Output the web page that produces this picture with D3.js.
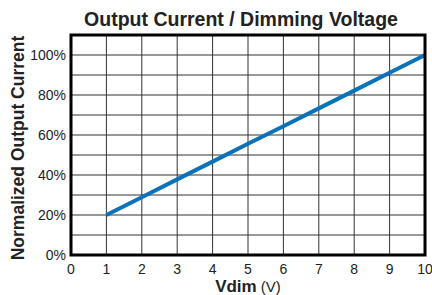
<!DOCTYPE html>
<html>
<head>
<meta charset="utf-8">
<script src="https://cdn.jsdelivr.net/npm/d3@7"></script>
<style>
  body { margin: 0; background: #fff; }
  svg text { font-family: "Liberation Sans", Arial, sans-serif; fill: #222; }
</style>
</head>
<body>
<div id="chart"></div>
<script>
// values
var vdim = [1, 2, 3, 4, 5, 6, 7, 8, 9, 10];
var current = [20, 28.9, 37.8, 46.7, 55.6, 64.4, 73.3, 82.2, 91.1, 100];
var xTicks = [0, 1, 2, 3, 4, 5, 6, 7, 8, 9, 10];
var yTicks = [0, 20, 40, 60, 80, 100];

var width = 432, height = 295,
    margin = {top: 35, right: 7, bottom: 40, left: 71};

var svg = d3.select('#chart').append('svg')
    .attr('width', width)
    .attr('height', height);

var x = d3.scaleLinear().domain([0, 10]).range([margin.left, width - margin.right]);
var y = d3.scaleLinear().domain([0, 110]).range([height - margin.bottom, margin.top]);

// grid
var g = svg.append('g');
g.selectAll('.vg').data(d3.range(1, 10)).enter().append('line')
    .attr('x1', d => x(d)).attr('x2', d => x(d))
    .attr('y1', y(0)).attr('y2', y(110))
    .attr('stroke', '#333').attr('stroke-width', 1);
g.selectAll('.hg').data(d3.range(10, 110, 10)).enter().append('line')
    .attr('x1', x(0)).attr('x2', x(10))
    .attr('y1', d => y(d)).attr('y2', d => y(d))
    .attr('stroke', '#333').attr('stroke-width', 1);

// line
svg.append('path')
    .datum(vdim.map((v, i) => [v, current[i]]))
    .attr('fill', 'none')
    .attr('stroke', '#0a72bb')
    .attr('stroke-width', 4)
    .attr('d', d3.line().x(d => x(d[0])).y(d => y(d[1])));

// frame
svg.append('rect')
    .attr('x', x(0)).attr('y', y(110))
    .attr('width', x(10) - x(0)).attr('height', y(0) - y(110))
    .attr('fill', 'none').attr('stroke', '#000').attr('stroke-width', 3);

// x ticks
svg.selectAll('.xt').data(xTicks).enter().append('text')
    .attr('x', d => x(d)).attr('y', y(0) + 19)
    .attr('text-anchor', 'middle').style('font-size', '14px')
    .text(d => d);

// y ticks
svg.selectAll('.yt').data(yTicks).enter().append('text')
    .attr('x', x(0) - 5).attr('y', d => y(d) + 5)
    .attr('text-anchor', 'end').style('font-size', '14px')
    .text(d => d + '%');

// titles
svg.append('text')
    .attr('x', 241).attr('y', 26)
    .attr('text-anchor', 'middle')
    .style('font-size', '19.5px').style('font-weight', 'bold')
    .text('Output Current / Dimming Voltage');

var xt = svg.append('text')
    .attr('x', 248).attr('y', 292)
    .attr('text-anchor', 'middle')
    .style('font-size', '17px');
xt.append('tspan').style('font-weight', 'bold').text('Vdim');
xt.append('tspan').style('font-size', '15px').text(' (V)');

svg.append('text')
    .attr('transform', 'translate(24,148) rotate(-90)')
    .attr('text-anchor', 'middle')
    .style('font-size', '17.5px').style('font-weight', 'bold')
    .text('Normalized Output Current');
</script>
</body>
</html>
